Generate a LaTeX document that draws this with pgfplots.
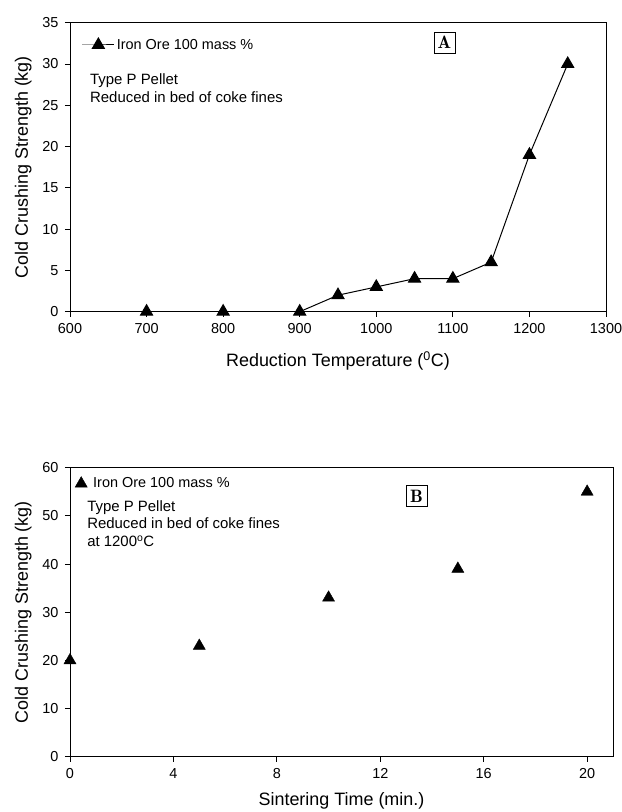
\documentclass[border=0pt]{standalone}
\usepackage{fontspec}
\setmainfont{Liberation Sans}
\usepackage{pgfplots}
\pgfplotsset{compat=1.18}
\begin{document}
\begin{tikzpicture}[x=1bp,y=1bp]
\pgfplotsset{
  every axis/.append style={
    scale only axis, height=289bp,
    axis line style={line width=1pt},
    tick align=outside, xtick pos=bottom, ytick pos=left,
    major tick length=5bp,
    tick style={black, line width=0.8pt},
    ticklabel style={font=\fontsize{14.5}{16}\selectfont},
    xticklabel style={yshift=-3bp},
    yticklabel style={xshift=-3bp},
    /pgf/number format/assume math mode=true,
    /pgf/number format/1000 sep={},
    label style={font=\fontsize{18}{20}\selectfont},
    ylabel style={yshift=4bp},
    legend style={draw=none, fill=none, font=\fontsize{14.5}{16}\selectfont,
      cells={anchor=west}, inner sep=0pt, outer sep=0pt},
  },
}
% Panel A
\begin{axis}[
  at={(0,0)}, anchor=south west, width=536bp,
  xmin=600, xmax=1300, ymin=0, ymax=35,
  xtick={600,700,...,1300}, ytick={0,5,...,35},
  xlabel={Reduction Temperature (\textsuperscript{0}C)},
  xlabel style={yshift=-11bp},
  ylabel={Cold Crushing Strength (kg)},
  legend style={at={(axis cs:615.5,32.3)}, anchor=west},
  legend image code/.code={\draw[mark repeat=2, mark phase=2]
    plot coordinates {(0bp,0bp) (16bp,0bp) (32bp,0bp)};},
]
\addplot[black, line width=1pt, mark=triangle*, mark size=7pt,
  mark options={solid, fill=black}] coordinates {
  (700,0) (800,0) (900,0) (950,2) (1000,3) (1050,4) (1100,4) (1150,6) (1200,19) (1250,30)
};
\addlegendentry{Iron Ore 100 mass \%}
\node[anchor=north west, align=left, inner sep=0pt,
  font=\fontsize{15}{18}\selectfont]
  at (axis cs:626,28.9) {Type P Pellet\\Reduced in bed of coke fines};
\node[draw, line width=0.8pt, inner sep=2pt, minimum size=21bp,
  font=\fontfamily{lmr}\bfseries\fontsize{18}{18}\selectfont]
  at (axis cs:1089,32.6) {A};
\end{axis}
% Panel B
\begin{axis}[
  at={(0,-445bp)}, anchor=south west, width=543bp,
  xmin=0, xmax=21, ymin=0, ymax=60,
  xtick={0,4,...,20}, ytick={0,10,...,60},
  xlabel={Sintering Time (min.)},
  xlabel style={yshift=-7bp},
  ylabel={Cold Crushing Strength (kg)},
  legend style={at={(axis cs:0.2,56.7)}, anchor=west},
  legend image code/.code={\path[draw=none, fill=none] (0bp,0bp) -- (16bp,0bp);
    \draw plot coordinates {(6bp,0bp)};},
]
\addplot[only marks, black, mark=triangle*, mark size=7pt,
  mark options={fill=black}] coordinates {
  (0,20) (5,23) (10,33) (15,39) (20,55)
};
\addlegendentry{Iron Ore 100 mass \%}
\node[anchor=north west, align=left, inner sep=0pt,
  font=\fontsize{15}{18}\selectfont]
  at (axis cs:0.66,53.3) {Type P Pellet\\Reduced in bed of coke fines\\at 1200\textsuperscript{o}C};
\node[draw, line width=0.8pt, inner sep=2pt, minimum size=21bp,
  font=\fontfamily{lmr}\bfseries\fontsize{18}{18}\selectfont]
  at (axis cs:13.4,54.1) {B};
\end{axis}
\pgfresetboundingbox
\path[use as bounding box] (-70bp,-500.3bp) rectangle (552bp,311.7bp);
\end{tikzpicture}
\end{document}
